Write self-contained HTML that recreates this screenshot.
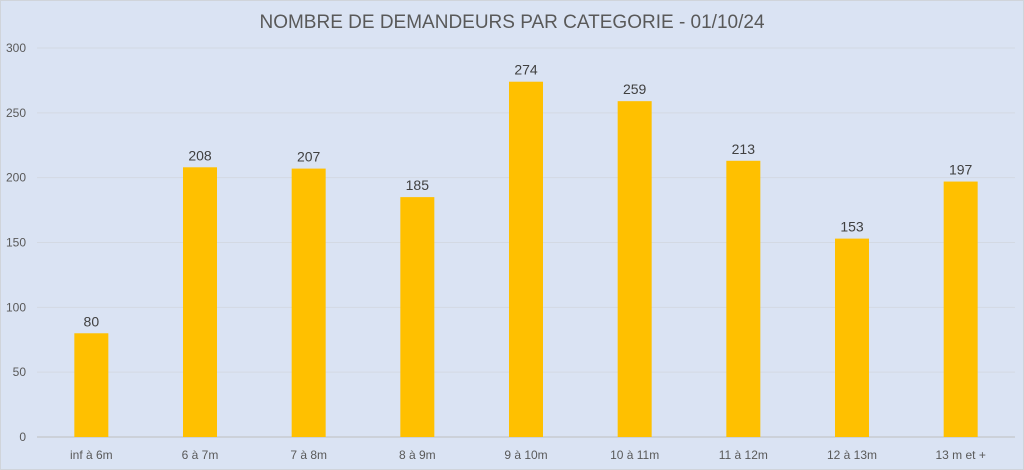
<!DOCTYPE html>
<html><head><meta charset="utf-8"><style>
html,body{margin:0;padding:0;}
body{width:1024px;height:470px;background:#dae3f3;overflow:hidden;}
svg{display:block;font-family:"Liberation Sans",sans-serif;}
</style></head><body>
<svg id="chart" width="1024" height="470">
<rect x="0.5" y="0.5" width="1023" height="469" fill="#dae3f3" stroke="#d0d4da"/>
<text x="512" y="28" text-anchor="middle" font-size="19" fill="#595959">NOMBRE DE DEMANDEURS PAR CATEGORIE - 01/10/24</text>
<g id="grid"></g><g id="bars"></g>
</svg>
<script>
const categories=["inf à 6m","6 à 7m","7 à 8m","8 à 9m","9 à 10m","10 à 11m","11 à 12m","12 à 13m","13 m et +"];
const values=[80,208,207,185,274,259,213,153,197];
const yTicks=[0,50,100,150,200,250,300];
const NS="http://www.w3.org/2000/svg";
const x0=37,x1=1015,y0=437,y1=48,yMax=300;
const band=(x1-x0)/categories.length;
const y=v=>y0-(v/yMax)*(y0-y1);
const xc=i=>x0+band*(i+0.5);
function mk(t,a,p){const e=document.createElementNS(NS,t);for(const k in a)e.setAttribute(k,a[k]);p.appendChild(e);return e;}
const g=document.getElementById('grid'),b=document.getElementById('bars');
yTicks.forEach(t=>{
 const l=mk('line',{x1:x0,x2:x1,y1:y(t),y2:y(t),stroke:t===0?'#bfbfbf':'#d3d9e3','stroke-width':1},g);
 
 
 const tx=mk('text',{x:26,y:y(t)+4,'text-anchor':'end','font-size':12,fill:'#595959'},g);
 tx.textContent=t;
 
 
});
categories.forEach((c,i)=>{
 const w=34;
 const r=mk('rect',{x:xc(i)-w/2,y:y(values[i]),width:w,height:y0-y(values[i]),fill:'#ffc000'},b);
 
 
 const v=mk('text',{x:xc(i),y:y(values[i])-7,'text-anchor':'middle','font-size':14,fill:'#404040'},b);
 v.textContent=values[i];
 
 
 const cl=mk('text',{x:xc(i),y:459,'text-anchor':'middle','font-size':12,fill:'#595959'},b);
 cl.textContent=c;
 
 
});
</script>
</body></html>
